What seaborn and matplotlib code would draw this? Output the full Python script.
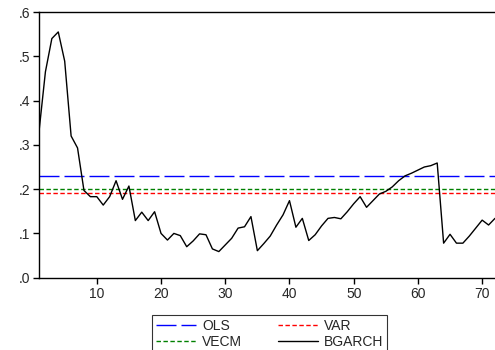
import matplotlib
matplotlib.use('Agg')
import matplotlib.pyplot as plt
import seaborn as sns
import pandas as pd

# dados
periodo = list(range(1, 73))
bgarch = [0.330, 0.465, 0.540, 0.555, 0.489, 0.320, 0.293, 0.197, 0.183, 0.183,
          0.164, 0.183, 0.219, 0.177, 0.207, 0.129, 0.148, 0.129, 0.149, 0.100,
          0.085, 0.100, 0.095, 0.070, 0.083, 0.099, 0.097, 0.065, 0.059, 0.074,
          0.089, 0.112, 0.115, 0.138, 0.061, 0.077, 0.094, 0.119, 0.142, 0.174,
          0.114, 0.134, 0.084, 0.097, 0.117, 0.134, 0.136, 0.133, 0.149, 0.167,
          0.183, 0.159, 0.174, 0.189, 0.195, 0.205, 0.219, 0.230, 0.236, 0.243,
          0.250, 0.253, 0.259, 0.078, 0.098, 0.078, 0.078, 0.094, 0.112, 0.130,
          0.119, 0.134]
ols = 0.229
var = 0.191
vecm = 0.200
yticks = [0.0, 0.1, 0.2, 0.3, 0.4, 0.5, 0.6]
ytick_labels = ['.0', '.1', '.2', '.3', '.4', '.5', '.6']
xticks = [10, 20, 30, 40, 50, 60, 70]

df = pd.DataFrame({'t': periodo, 'BGARCH': bgarch})

sns.set_style('ticks')
plt.rcParams['font.family'] = ['Liberation Sans', 'DejaVu Sans']

fig = plt.figure(figsize=(4.95, 3.5), dpi=100)
ax = fig.add_axes([39 / 495, 1 - 277.7 / 350, 1 - 39 / 495, (277.7 - 12) / 350])

l_ols = ax.axhline(ols, color='#0000ff', lw=1, linestyle=(0, (14.4, 3.6)), label='OLS')
l_var = ax.axhline(var, color='#ff0000', lw=1, linestyle=(0, (3.2, 1.8)), label='VAR')
l_vecm = ax.axhline(vecm, color='#008000', lw=1, linestyle=(0, (3.2, 1.8)), label='VECM')
sns.lineplot(data=df, x='t', y='BGARCH', color='black', lw=1, ax=ax, label='BGARCH')

ax.set_xlim(1, 72)
ax.set_ylim(0, 0.6)
ax.set_yticks(yticks)
ax.set_yticklabels(ytick_labels)
ax.set_xticks(xticks)
ax.set_xlabel('')
ax.set_ylabel('')
ax.tick_params(labelsize=10, length=4, width=1, color='black', pad=2.5)
for s in ['left', 'bottom', 'top']:
    ax.spines[s].set_color('black')
    ax.spines[s].set_linewidth(1)
ax.spines['right'].set_visible(False)

linha_bgarch = ax.get_lines()[-1]
leg = ax.legend(handles=[l_ols, l_vecm, l_var, linha_bgarch],
                labels=['OLS', 'VECM', 'VAR', 'BGARCH'],
                ncol=2, loc='upper left', bbox_to_anchor=(152 / 495, 1 - 315 / 350),
                bbox_transform=fig.transFigure, fontsize=10, frameon=True,
                fancybox=False, edgecolor='black', handlelength=2.9,
                columnspacing=2.6, handletextpad=0.4, borderpad=0.3,
                labelspacing=0.15, borderaxespad=0)
leg.get_frame().set_linewidth(0.8)

fig.savefig('out.png', dpi=100)
